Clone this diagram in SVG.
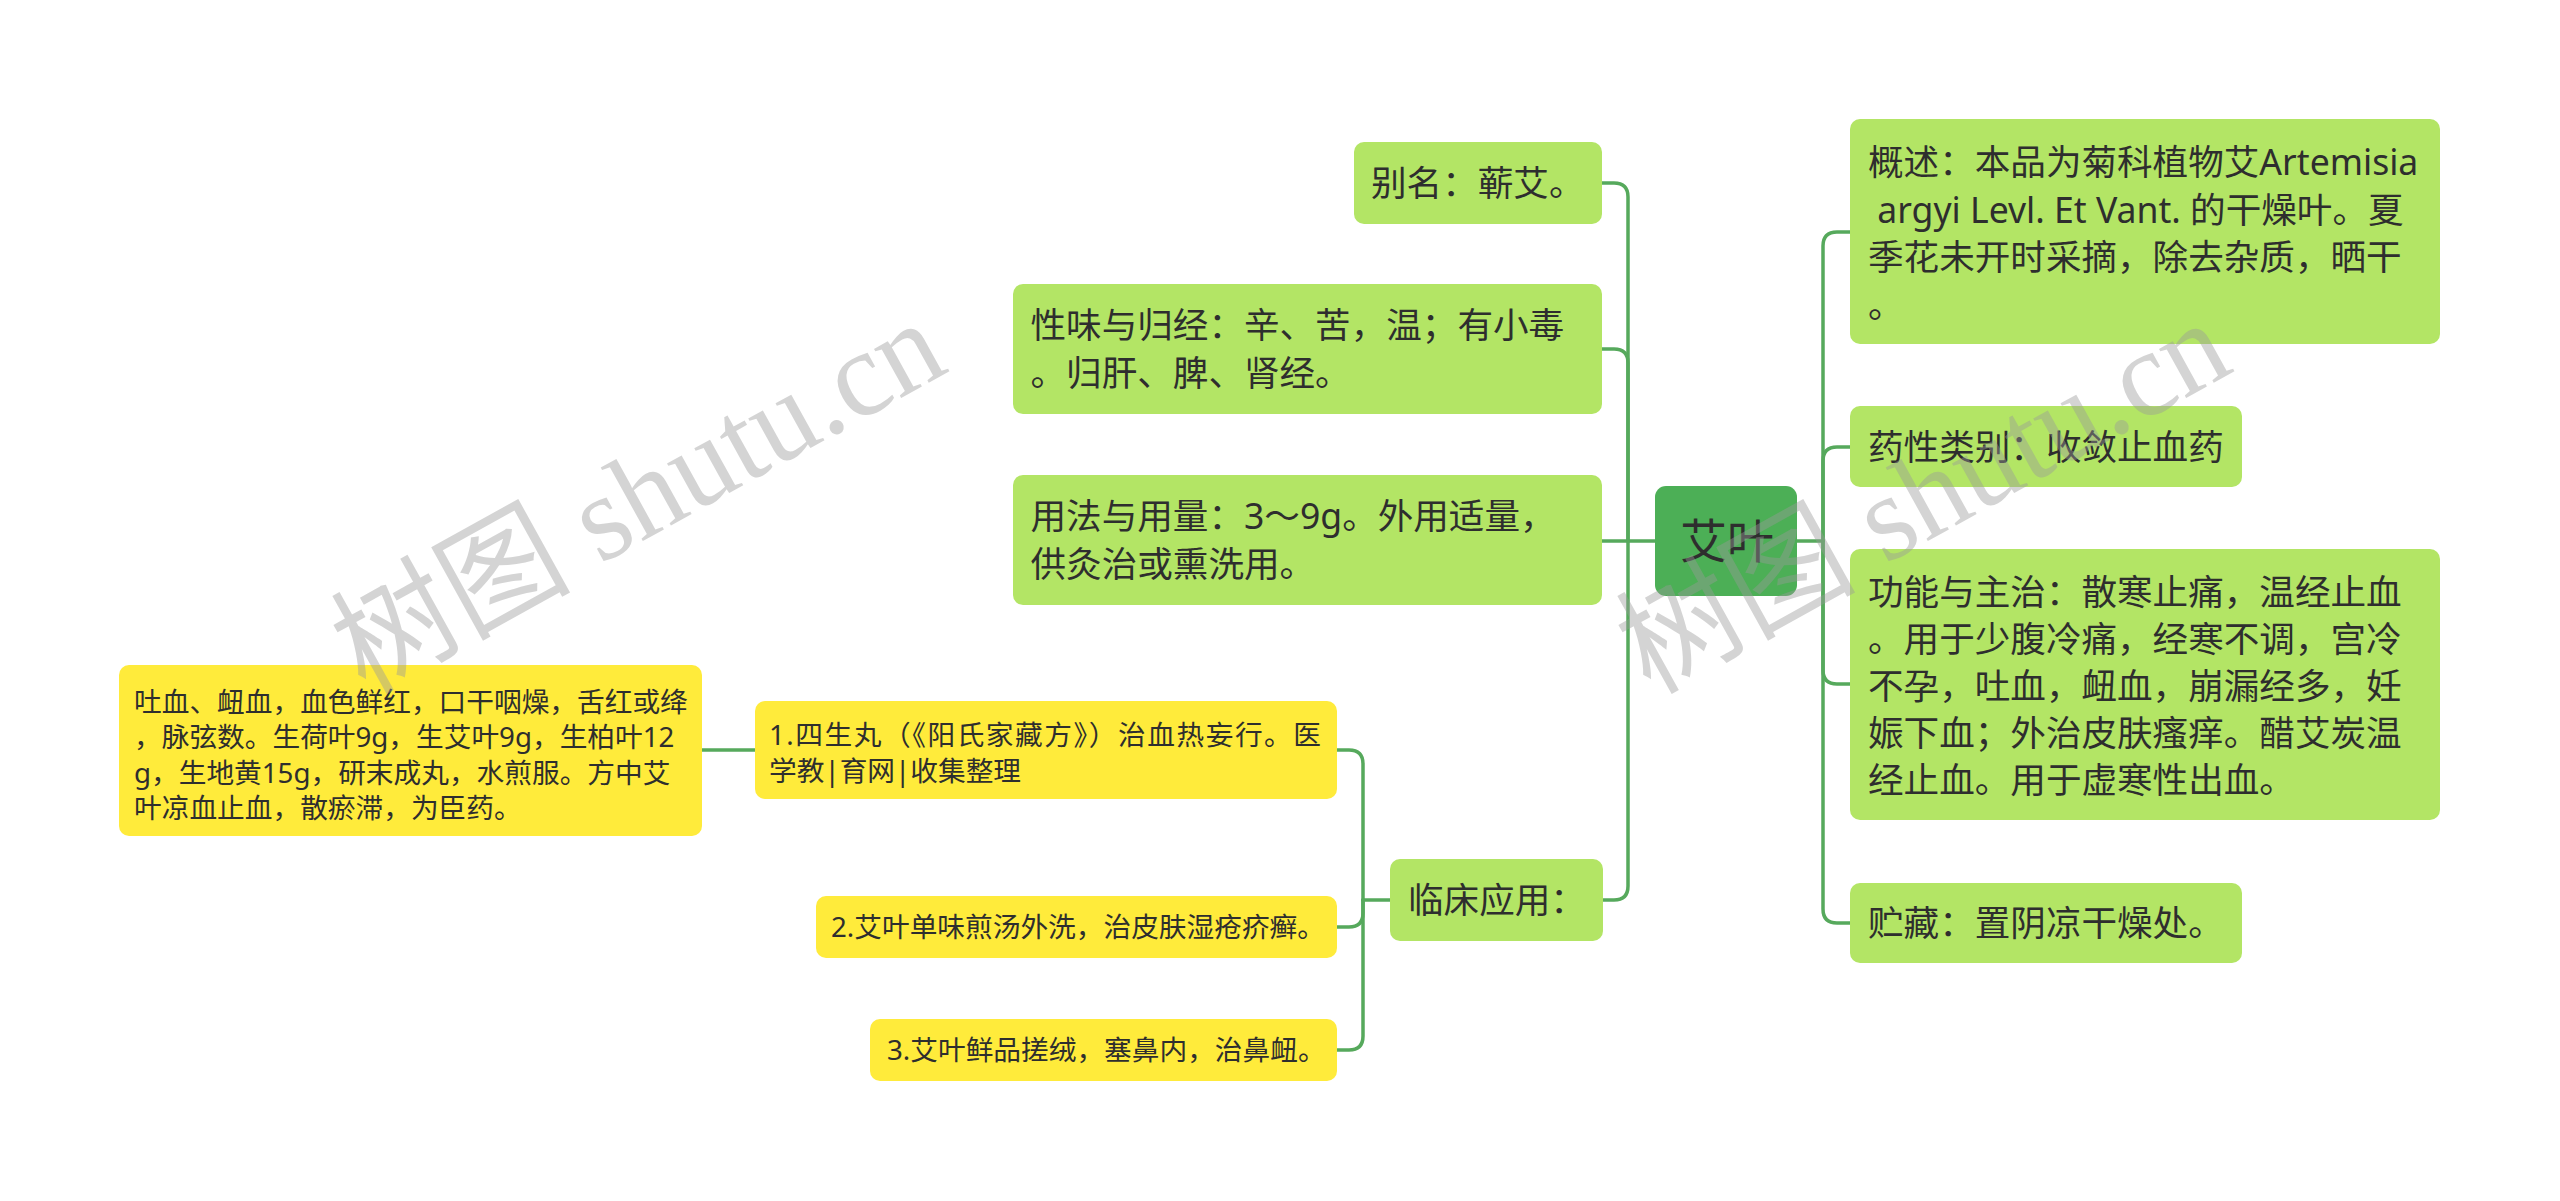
<svg xmlns="http://www.w3.org/2000/svg" width="2560" height="1201" viewBox="0 0 2560 1201">
<style>
.t{font-family:"Noto Sans","Noto Sans CJK SC",sans-serif;fill:#2e2e2e;white-space:pre}
.g{font-size:35.6px}
.y{font-size:27.7px}
.r{font-size:47px}
.bg{fill:#b3e565}
.by{fill:#ffeb3b}
.br{fill:#4caf56}
.c path{fill:none;stroke:#56a95c;stroke-width:3.5;stroke-linecap:round}
.wm{font-family:"Liberation Serif","Noto Sans CJK SC",serif;font-size:122px;fill:#9a9a9a;opacity:0.42}
</style>
<rect width="2560" height="1201" fill="#ffffff"/>
<g class="c" id="connectors">
<path d="M1797,541 H1823"/>
<path d="M1823,541 V246 Q1823,232 1837,232 H1850"/>
<path d="M1823,541 V461 Q1823,447 1837,447 H1850"/>
<path d="M1823,541 V670 Q1823,684 1837,684 H1850"/>
<path d="M1823,541 V909 Q1823,923 1837,923 H1850"/>
<path d="M1655,541 H1628"/>
<path d="M1628,541 V197 Q1628,183 1614,183 H1602"/>
<path d="M1628,541 V363 Q1628,349 1614,349 H1602"/>
<path d="M1628,541 H1602"/>
<path d="M1628,541 V886 Q1628,900 1614,900 H1603"/>
<path d="M1390,900 H1363"/>
<path d="M1363,900 V764 Q1363,750 1349,750 H1337"/>
<path d="M1363,900 V913 Q1363,927 1349,927 H1337"/>
<path d="M1363,900 V1036 Q1363,1050 1349,1050 H1337"/>
<path d="M755,750 H702"/>
</g>
<g id="root">
<rect class="br" x="1655" y="486" width="142" height="110" rx="11"/>
<text class="t r" x="1727" y="558" text-anchor="middle">艾叶</text>
</g>
<g id="n-gaishu">
<rect class="bg" x="1850" y="119" width="590" height="225" rx="10"/>
<text class="t g"><tspan x="1868" y="175">概述：本品为菊科植物艾Artemisia</tspan><tspan x="1868" y="222.5"> argyi Levl. Et Vant. 的干燥叶。夏</tspan><tspan x="1868" y="270">季花未开时采摘，除去杂质，晒干</tspan><tspan x="1868" y="317.5">。</tspan></text>
</g>
<g id="n-yaoxing">
<rect class="bg" x="1850" y="406" width="392" height="81" rx="10"/>
<text class="t g" x="1868" y="459.5">药性类别：收敛止血药</text>
</g>
<g id="n-gongneng">
<rect class="bg" x="1850" y="549" width="590" height="271" rx="10"/>
<text class="t g"><tspan x="1868" y="605">功能与主治：散寒止痛，温经止血</tspan><tspan x="1868" y="652">。用于少腹冷痛，经寒不调，宫冷</tspan><tspan x="1868" y="699">不孕，吐血，衄血，崩漏经多，妊</tspan><tspan x="1868" y="746">娠下血；外治皮肤瘙痒。醋艾炭温</tspan><tspan x="1868" y="793">经止血。用于虚寒性出血。</tspan></text>
</g>
<g id="n-zhucang">
<rect class="bg" x="1850" y="883" width="392" height="80" rx="10"/>
<text class="t g" x="1868" y="936">贮藏：置阴凉干燥处。</text>
</g>
<g id="n-bieming">
<rect class="bg" x="1354" y="142" width="248" height="82" rx="10"/>
<text class="t g" x="1371" y="196">别名：蕲艾。</text>
</g>
<g id="n-xingwei">
<rect class="bg" x="1013" y="284" width="589" height="130" rx="10"/>
<text class="t g"><tspan x="1030.5" y="338">性味与归经：辛、苦，温；有小毒</tspan><tspan x="1030.5" y="385.5">。归肝、脾、肾经。</tspan></text>
</g>
<g id="n-yongfa">
<rect class="bg" x="1013" y="475" width="589" height="130" rx="10"/>
<text class="t g"><tspan x="1030.5" y="529">用法与用量：3～9g。外用适量，</tspan><tspan x="1030.5" y="576.5">供灸治或熏洗用。</tspan></text>
</g>
<g id="n-linchuang">
<rect class="bg" x="1390" y="859" width="213" height="82" rx="10"/>
<text class="t g" x="1408" y="913">临床应用：</text>
</g>
<g id="n-c1">
<rect class="by" x="755" y="701" width="582" height="98" rx="10"/>
<text class="t y"><tspan x="769" y="745" textLength="552">1.四生丸（《阳氏家藏方》）治血热妄行。医</tspan><tspan x="769" y="780.5">学教|育网|收集整理</tspan></text>
</g>
<g id="n-c1-detail">
<rect class="by" x="119" y="665" width="583" height="171" rx="10"/>
<text class="t y"><tspan x="134" y="712">吐血、衄血，血色鲜红，口干咽燥，舌红或绛</tspan><tspan x="134" y="747.3">，脉弦数。生荷叶9g，生艾叶9g，生柏叶12</tspan><tspan x="134" y="782.6">g，生地黄15g，研末成丸，水煎服。方中艾</tspan><tspan x="134" y="818">叶凉血止血，散瘀滞，为臣药。</tspan></text>
</g>
<g id="n-c2">
<rect class="by" x="816" y="896" width="521" height="62" rx="10"/>
<text class="t y" x="831" y="937">2.艾叶单味煎汤外洗，治皮肤湿疮疥癣。</text>
</g>
<g id="n-c3">
<rect class="by" x="870" y="1019" width="467" height="62" rx="10"/>
<text class="t y" x="887" y="1060">3.艾叶鲜品搓绒，塞鼻内，治鼻衄。</text>
</g>
<g id="watermarks">
<text class="wm" transform="translate(365,695) rotate(-29)" textLength="670" lengthAdjust="spacingAndGlyphs">树图 shutu.cn</text>
<text class="wm" transform="translate(1650,695) rotate(-29)" textLength="670" lengthAdjust="spacingAndGlyphs">树图 shutu.cn</text>
</g>
</svg>
